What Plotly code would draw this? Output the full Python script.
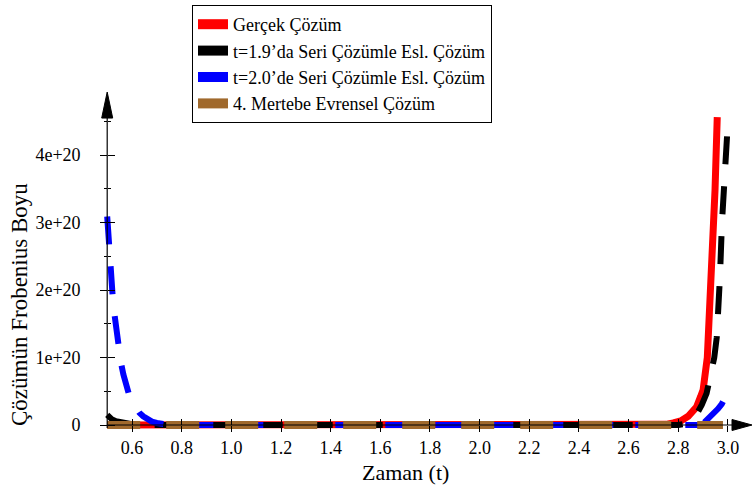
import plotly.graph_objects as go

# ---------------- data ----------------
t_exact = [0.5, 2.6, 2.7, 2.75, 2.78, 2.81, 2.84, 2.86, 2.874, 2.89, 2.9, 2.917, 2.928, 2.939, 2.948, 2.957]
y_exact = [0, 0, 0.003e20, 0.01e20, 0.03e20, 0.06e20, 0.13e20, 0.2e20, 0.27e20, 0.42e20, 0.52e20,
           1.0e20, 1.75e20, 2.49e20, 3.48e20, 4.56e20]

t_s19 = [0.5, 0.51, 0.52, 0.535, 0.55, 0.57, 0.6, 0.63, 0.66, 0.7, 2.8, 2.83, 2.847, 2.862, 2.874,
         2.895, 2.914, 2.93, 2.945, 2.955, 2.962, 2.968, 2.976, 2.988, 3.0]
y_s19 = [0.15e20, 0.11e20, 0.08e20, 0.055e20, 0.04e20, 0.025e20, 0.013e20, 0.006e20, 0.002e20, 0,
         0, 0.01e20, 0.03e20, 0.08e20, 0.15e20, 0.3e20, 0.47e20, 0.72e20, 1.0e20, 1.3e20, 1.7e20,
         2.2e20, 3.0e20, 3.9e20, 4.5e20]

# t=2.0 series: early part and late (blow-up) part
t_s20_a = [0.5, 0.505, 0.511, 0.516, 0.522, 0.53, 0.538, 0.545, 0.555, 0.565, 0.577, 0.588, 0.6,
           0.615, 0.63, 0.645, 0.66, 0.68, 0.7, 0.72, 0.75, 2.88]
y_s20_a = [3.09e20, 2.78e20, 2.55e20, 2.22e20, 1.91e20, 1.62e20, 1.36e20, 1.16e20, 0.93e20, 0.75e20,
           0.58e20, 0.45e20, 0.35e20, 0.26e20, 0.18e20, 0.13e20, 0.09e20, 0.05e20, 0.03e20, 0.015e20,
           0, 0]
t_s20_b = [2.905, 2.92, 2.94, 2.96, 2.975, 2.982]
y_s20_b = [0.04e20, 0.09e20, 0.16e20, 0.24e20, 0.31e20, 0.36e20]

t_univ = [0.5, 2.98]
y_univ = [0, 0]

names = ["Gerçek Çözüm", "t=1.9’da Seri Çözümle Esl. Çözüm",
         "t=2.0’de Seri Çözümle Esl. Çözüm", "4. Mertebe Evrensel Çözüm"]
colors = ["#FF0000", "#000000", "#0000FF", "#A0692C"]

x_tickvals = [0.6, 0.8, 1.0, 1.2, 1.4, 1.6, 1.8, 2.0, 2.2, 2.4, 2.6, 2.8, 3.0]
x_ticktext = ["0.6", "0.8", "1.0", "1.2", "1.4", "1.6", "1.8", "2.0", "2.2", "2.4", "2.6", "2.8", "3.0"]
y_tickvals = [0, 1e20, 2e20, 3e20, 4e20]
y_ticktext = ["0", "1e+20", "2e+20", "3e+20", "4e+20"]

x_title = "Zaman (t)"
y_title = "Çözümün Frobenius Boyu"

# ---------------- layout geometry ----------------
W, H = 754, 488
ML, MR, MT, MB = 100, 0, 88, 56
xr = [0.471, 3.105]
yr = [-0.1037e20, 4.993e20]
pw, ph = W - ML - MR, H - MT - MB
px_x = (xr[1] - xr[0]) / pw   # data units per pixel (x)
px_y = (yr[1] - yr[0]) / ph   # data units per pixel (y)
x_axis_pos = (0 - yr[0]) / (yr[1] - yr[0])
y_axis_pos = (0.5 - xr[0]) / (xr[1] - xr[0])

FONT = "Liberation Serif, Times New Roman, serif"

fig = go.Figure()

series = [(t_exact, y_exact, 0, 7, "solid"), (t_s19, y_s19, 1, 6, "28px,22px"),
          (t_s20_a, y_s20_a, 2, 6, "28px,22px"), (t_s20_b, y_s20_b, 2, 6, "28px,22px"),
          (t_univ, y_univ, 3, 8, "33px,26px")]
for tx, ty, k, w, d in series:
    fig.add_trace(go.Scatter(x=tx, y=ty, mode="lines", name=names[k], showlegend=False,
                             line=dict(color=colors[k], width=w, dash=d), hoverinfo="skip"))
# legend entries
for c, n in zip(colors, names):
    fig.add_trace(go.Scatter(x=[None], y=[None], mode="lines", name=n,
                             line=dict(color=c, width=10)))
# helper trace for overlay axes (crossing ticks)
fig.add_trace(go.Scatter(x=[None], y=[None], xaxis="x2", yaxis="y2", showlegend=False,
                         hoverinfo="skip"))

tickfont = dict(family=FONT, size=18, color="black")
common_x = dict(range=xr, tickmode="array", tickvals=x_tickvals, showgrid=False,
                zeroline=False, showline=False, anchor="free", position=x_axis_pos,
                tickcolor="black", tickwidth=1, ticklen=6)
common_y = dict(range=yr, tickmode="array", tickvals=y_tickvals, showgrid=False,
                zeroline=False, showline=False, anchor="free", position=y_axis_pos,
                tickcolor="black", tickwidth=1, ticklen=7)

fig.update_layout(
    width=W, height=H, margin=dict(l=ML, r=MR, t=MT, b=MB, pad=0),
    paper_bgcolor="white", plot_bgcolor="white",
    font=dict(family=FONT, color="black"),
    xaxis=dict(**common_x, ticks="outside", ticktext=x_ticktext, tickfont=tickfont,
               ticklabelstandoff=0),
    yaxis=dict(**common_y, ticks="outside", ticktext=y_ticktext, tickfont=tickfont,
               ticklabelstandoff=16,
               minor=dict(dtick=0.5e20, tick0=0, ticks="outside", ticklen=3,
                          tickcolor="black", tickwidth=1)),
    xaxis2=dict(**common_x, overlaying="x", ticks="inside", showticklabels=False),
    yaxis2=dict(**common_y, overlaying="y", ticks="inside", showticklabels=False,
                minor=dict(dtick=0.5e20, tick0=0, ticks="inside", ticklen=3,
                           tickcolor="black", tickwidth=1)),
    legend=dict(x=(192 - ML) / pw, y=(H - MB - 5) / ph, xanchor="left", yanchor="top",
                bordercolor="black", borderwidth=1, bgcolor="white",
                font=dict(family=FONT, size=18, color="black"), tracegroupgap=0),
    showlegend=True,
    hovermode=False,
)

# axis lines with arrows
x_tip = 0.5 + (752 - 107.2) * px_x
x_base = x_tip - 20 * px_x
y_tip = 4.933e20
y_base = y_tip - 26 * px_y
fig.add_shape(type="line", x0=0.5, x1=x_base, y0=0, y1=0, line=dict(color="black", width=1.2),
              layer="above")
fig.add_shape(type="line", x0=0.5, x1=0.5, y0=-3 * px_y, y1=y_base, line=dict(color="black", width=1.2),
              layer="above")
fig.add_shape(type="path",
              path=f"M {x_base},{5.5 * px_y} L {x_tip},0 L {x_base},{-5.5 * px_y} Z",
              fillcolor="black", line=dict(color="black", width=1), layer="above")
fig.add_shape(type="path",
              path=f"M {0.5 - 5.5 * px_x},{y_base} L 0.5,{y_tip} L {0.5 + 5.5 * px_x},{y_base} Z",
              fillcolor="black", line=dict(color="black", width=1), layer="above")

# axis titles
fig.add_annotation(text=x_title, xref="paper", yref="paper", x=(405 - ML) / pw, y=(H - MB - 472) / ph,
                   xanchor="center", yanchor="middle", showarrow=False,
                   font=dict(family=FONT, size=22, color="black"))
fig.add_annotation(text=y_title, xref="paper", yref="paper", x=(19 - ML) / pw, y=(H - MB - 305) / ph,
                   xanchor="center", yanchor="middle", showarrow=False, textangle=-90,
                   font=dict(family=FONT, size=23, color="black"))

fig.write_html("out.html")
